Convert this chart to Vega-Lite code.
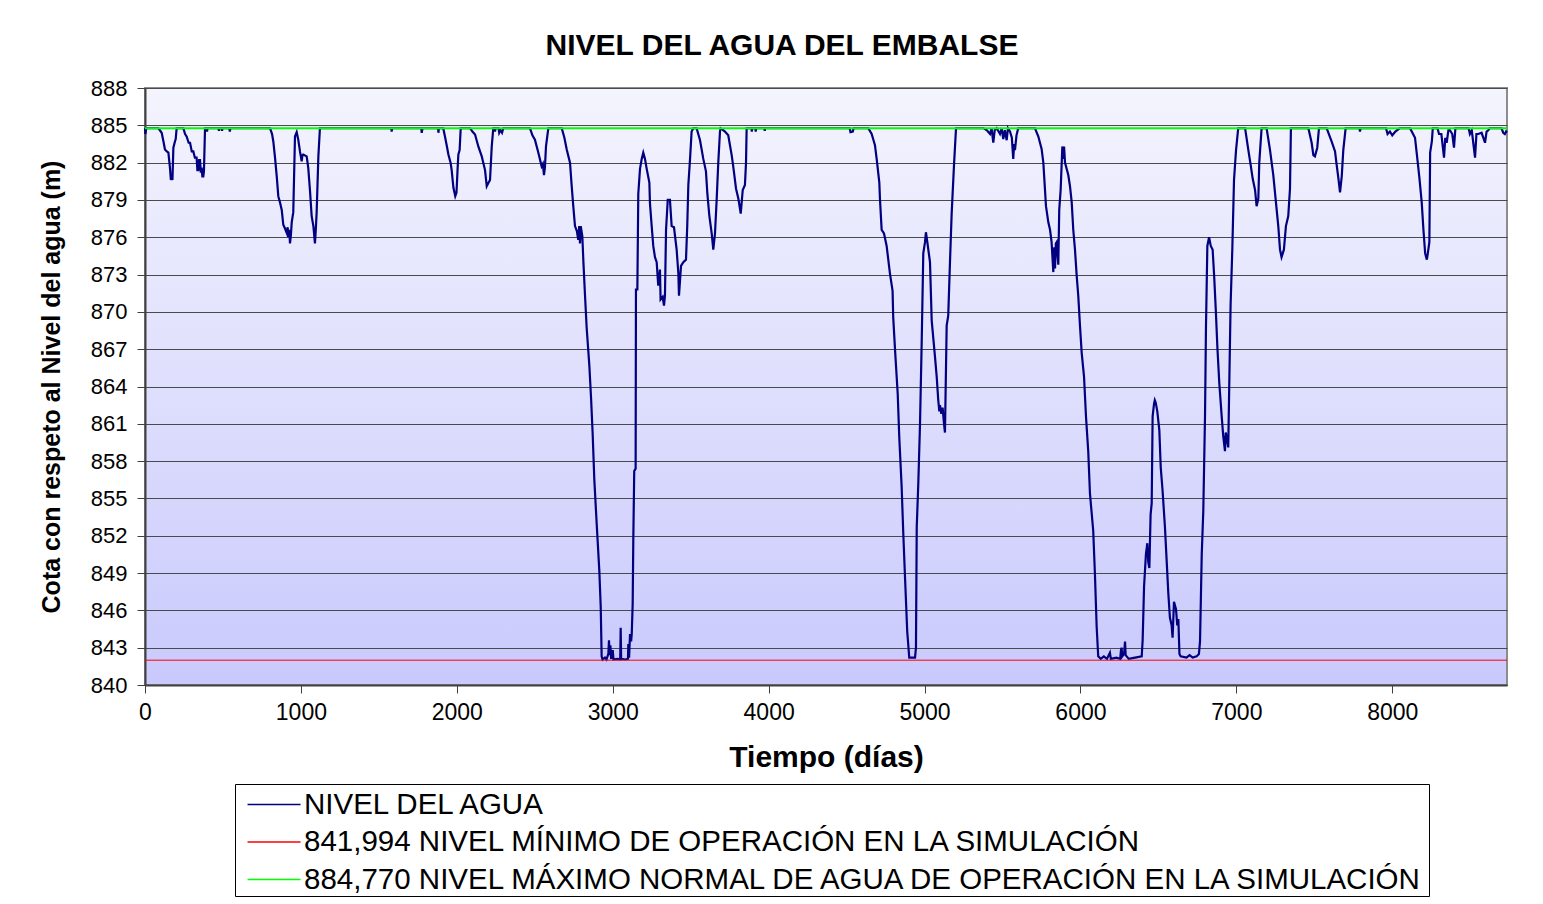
{
  "$schema": "https://vega.github.io/schema/vega-lite/v6.json",
  "width": 1362,
  "height": 597,
  "autosize": {"type": "none"},
  "padding": {"left": 145, "top": 88, "right": 36, "bottom": 219},
  "background": "white",
  "title": {"text": "NIVEL DEL AGUA DEL EMBALSE", "font": "Liberation Sans", "fontSize": 30, "fontWeight": "bold", "color": "black", "anchor": "middle", "frame": "group", "dx": -44, "offset": 16},
  "datasets": {
    "nivel": [
      {"dia":0,"cota":884.77},{"dia":2,"cota":884.3},{"dia":5,"cota":884.5},{"dia":8,"cota":884.77},
      {"dia":85,"cota":884.77},{"dia":107,"cota":884.4},{"dia":120,"cota":883.6},{"dia":128,"cota":883.05},{"dia":140,"cota":882.9},{"dia":150,"cota":882.8},{"dia":160,"cota":881.6},{"dia":166,"cota":880.6},{"dia":170,"cota":881.0},{"dia":176,"cota":880.6},{"dia":182,"cota":883.2},{"dia":192,"cota":883.7},{"dia":197,"cota":883.9},{"dia":203,"cota":884.77},
      {"dia":246,"cota":884.77},{"dia":257,"cota":884.3},{"dia":267,"cota":884.1},{"dia":280,"cota":883.6},{"dia":289,"cota":883.6},{"dia":300,"cota":882.9},{"dia":310,"cota":882.9},{"dia":320,"cota":882.4},{"dia":331,"cota":882.4},{"dia":336,"cota":881.4},{"dia":342,"cota":881.4},{"dia":347,"cota":882.2},{"dia":353,"cota":882.2},{"dia":358,"cota":881.2},{"dia":363,"cota":881.6},{"dia":368,"cota":880.9},{"dia":374,"cota":880.9},{"dia":378,"cota":881.3},{"dia":385,"cota":884.77},
      {"dia":396,"cota":884.77},{"dia":398,"cota":884.5},{"dia":400,"cota":884.77},{"dia":472,"cota":884.77},{"dia":474,"cota":884.55},{"dia":477,"cota":884.77},{"dia":492,"cota":884.77},{"dia":494,"cota":884.55},{"dia":497,"cota":884.77},{"dia":541,"cota":884.77},{"dia":544,"cota":884.5},{"dia":548,"cota":884.77},
      {"dia":802,"cota":884.77},{"dia":815,"cota":884.3},{"dia":823,"cota":883.7},{"dia":834,"cota":882.4},{"dia":845,"cota":880.9},{"dia":855,"cota":879.3},{"dia":866,"cota":878.8},{"dia":877,"cota":878.2},{"dia":887,"cota":877.0},{"dia":898,"cota":876.7},{"dia":909,"cota":876.35},{"dia":915,"cota":876.8},{"dia":920,"cota":876.0},{"dia":925,"cota":876.6},{"dia":930,"cota":875.5},{"dia":936,"cota":876.2},{"dia":941,"cota":877.2},{"dia":951,"cota":878.0},{"dia":962,"cota":884.1},{"dia":973,"cota":884.45},{"dia":983,"cota":883.85},{"dia":994,"cota":882.9},{"dia":1005,"cota":882.1},{"dia":1010,"cota":882.6},{"dia":1015,"cota":882.65},{"dia":1037,"cota":882.5},{"dia":1047,"cota":881.6},{"dia":1058,"cota":879.8},{"dia":1069,"cota":877.7},{"dia":1080,"cota":876.9},{"dia":1085,"cota":876.2},{"dia":1090,"cota":875.5},{"dia":1095,"cota":876.5},{"dia":1101,"cota":878.0},{"dia":1112,"cota":882.5},{"dia":1122,"cota":884.77},
      {"dia":1580,"cota":884.77},{"dia":1582,"cota":884.5},{"dia":1586,"cota":884.77},{"dia":1772,"cota":884.77},{"dia":1775,"cota":884.4},{"dia":1780,"cota":884.77},{"dia":1880,"cota":884.77},{"dia":1882,"cota":884.4},{"dia":1885,"cota":884.77},
      {"dia":1913,"cota":884.77},{"dia":1924,"cota":884.1},{"dia":1935,"cota":883.4},{"dia":1946,"cota":882.65},{"dia":1960,"cota":882.0},{"dia":1967,"cota":881.4},{"dia":1978,"cota":880.0},{"dia":1990,"cota":879.3},{"dia":1998,"cota":879.6},{"dia":2005,"cota":881.5},{"dia":2010,"cota":882.65},{"dia":2018,"cota":883.0},{"dia":2025,"cota":884.77},
      {"dia":2085,"cota":884.77},{"dia":2100,"cota":884.5},{"dia":2117,"cota":884.26},{"dia":2138,"cota":883.3},{"dia":2160,"cota":882.5},{"dia":2181,"cota":881.4},{"dia":2192,"cota":880.1},{"dia":2200,"cota":880.3},{"dia":2213,"cota":880.6},{"dia":2224,"cota":883.3},{"dia":2234,"cota":884.77},
      {"dia":2243,"cota":884.77},{"dia":2245,"cota":884.5},{"dia":2248,"cota":884.77},{"dia":2268,"cota":884.77},{"dia":2272,"cota":884.4},{"dia":2280,"cota":884.6},{"dia":2290,"cota":884.4},{"dia":2298,"cota":884.77},
      {"dia":2469,"cota":884.77},{"dia":2485,"cota":884.2},{"dia":2501,"cota":883.85},{"dia":2523,"cota":882.8},{"dia":2544,"cota":881.7},{"dia":2552,"cota":881.9},{"dia":2559,"cota":881.0},{"dia":2565,"cota":881.6},{"dia":2572,"cota":883.3},{"dia":2587,"cota":884.77},
      {"dia":2673,"cota":884.77},{"dia":2690,"cota":884.0},{"dia":2705,"cota":883.05},{"dia":2726,"cota":882.0},{"dia":2737,"cota":880.1},{"dia":2747,"cota":878.5},{"dia":2758,"cota":876.9},{"dia":2770,"cota":876.5},{"dia":2779,"cota":875.8},{"dia":2785,"cota":876.9},{"dia":2790,"cota":875.5},{"dia":2795,"cota":876.9},{"dia":2805,"cota":876.1},{"dia":2812,"cota":874.0},{"dia":2822,"cota":871.4},{"dia":2833,"cota":868.7},{"dia":2850,"cota":865.7},{"dia":2861,"cota":863.1},{"dia":2871,"cota":860.3},{"dia":2882,"cota":856.5},{"dia":2897,"cota":853.0},{"dia":2914,"cota":849.2},{"dia":2923,"cota":846.3},{"dia":2929,"cota":842.3},{"dia":2935,"cota":842.05},
      {"dia":2950,"cota":842.2},{"dia":2960,"cota":842.05},{"dia":2972,"cota":842.5},{"dia":2976,"cota":843.6},{"dia":2980,"cota":842.4},{"dia":2985,"cota":843.2},{"dia":2990,"cota":842.1},{"dia":3000,"cota":842.8},{"dia":3005,"cota":842.05},{"dia":3030,"cota":842.1},{"dia":3048,"cota":842.05},{"dia":3051,"cota":844.6},{"dia":3054,"cota":842.1},{"dia":3080,"cota":842.05},{"dia":3098,"cota":842.1},{"dia":3100,"cota":843.3},{"dia":3105,"cota":842.2},{"dia":3111,"cota":844.1},{"dia":3118,"cota":843.5},{"dia":3122,"cota":844.1},
      {"dia":3128,"cota":846.5},{"dia":3132,"cota":851.7},{"dia":3138,"cota":857.2},{"dia":3147,"cota":857.4},{"dia":3149,"cota":871.8},{"dia":3158,"cota":871.8},{"dia":3164,"cota":879.5},{"dia":3175,"cota":881.5},{"dia":3186,"cota":882.3},{"dia":3196,"cota":882.8},{"dia":3207,"cota":882.3},{"dia":3218,"cota":881.5},{"dia":3235,"cota":880.4},{"dia":3239,"cota":878.7},{"dia":3250,"cota":876.9},{"dia":3260,"cota":875.3},{"dia":3271,"cota":874.4},{"dia":3282,"cota":874.0},{"dia":3292,"cota":872.1},{"dia":3303,"cota":873.4},{"dia":3307,"cota":871.0},{"dia":3320,"cota":871.2},{"dia":3329,"cota":870.5},{"dia":3335,"cota":871.3},{"dia":3342,"cota":876.6},{"dia":3353,"cota":879.0},{"dia":3367,"cota":879.0},{"dia":3378,"cota":876.9},{"dia":3393,"cota":876.8},{"dia":3410,"cota":875.0},{"dia":3421,"cota":873.1},{"dia":3425,"cota":871.3},{"dia":3438,"cota":873.7},{"dia":3453,"cota":874.0},{"dia":3470,"cota":874.2},{"dia":3478,"cota":876.9},{"dia":3485,"cota":880.2},{"dia":3496,"cota":882.3},{"dia":3506,"cota":884.5},{"dia":3517,"cota":884.77},
      {"dia":3538,"cota":884.77},{"dia":3560,"cota":883.8},{"dia":3581,"cota":882.3},{"dia":3598,"cota":881.3},{"dia":3607,"cota":879.5},{"dia":3620,"cota":877.7},{"dia":3635,"cota":876.3},{"dia":3645,"cota":875.0},{"dia":3656,"cota":876.3},{"dia":3667,"cota":879.1},{"dia":3677,"cota":882.0},{"dia":3688,"cota":884.5},{"dia":3692,"cota":884.77},{"dia":3720,"cota":884.5},{"dia":3741,"cota":884.2},{"dia":3763,"cota":882.6},{"dia":3773,"cota":881.7},{"dia":3791,"cota":879.9},{"dia":3806,"cota":879.1},{"dia":3821,"cota":877.9},{"dia":3834,"cota":879.8},{"dia":3848,"cota":880.2},{"dia":3855,"cota":882.0},{"dia":3859,"cota":884.77},
      {"dia":3890,"cota":884.77},{"dia":3892,"cota":884.5},{"dia":3895,"cota":884.77},{"dia":3915,"cota":884.77},{"dia":3917,"cota":884.5},{"dia":3920,"cota":884.77},{"dia":3973,"cota":884.77},{"dia":3975,"cota":884.55},{"dia":3978,"cota":884.77},{"dia":4520,"cota":884.77},{"dia":4525,"cota":884.45},{"dia":4540,"cota":884.5},{"dia":4545,"cota":884.77},
      {"dia":4639,"cota":884.77},{"dia":4661,"cota":884.3},{"dia":4682,"cota":883.4},{"dia":4693,"cota":882.3},{"dia":4710,"cota":880.4},{"dia":4714,"cota":879.1},{"dia":4725,"cota":876.6},{"dia":4740,"cota":876.3},{"dia":4757,"cota":875.3},{"dia":4778,"cota":873.1},{"dia":4795,"cota":871.7},{"dia":4799,"cota":869.6},{"dia":4812,"cota":866.7},{"dia":4828,"cota":863.4},{"dia":4838,"cota":859.9},{"dia":4853,"cota":856.0},{"dia":4864,"cota":852.1},{"dia":4875,"cota":848.6},{"dia":4889,"cota":844.3},{"dia":4902,"cota":842.2},{"dia":4939,"cota":842.2},{"dia":4945,"cota":843.0},{"dia":4950,"cota":852.7},{"dia":4960,"cota":856.2},{"dia":4971,"cota":861.0},{"dia":4982,"cota":867.7},{"dia":4992,"cota":874.7},{"dia":5003,"cota":875.6},{"dia":5009,"cota":876.4},{"dia":5018,"cota":875.6},{"dia":5035,"cota":874.0},{"dia":5046,"cota":869.3},{"dia":5067,"cota":866.4},{"dia":5078,"cota":864.8},{"dia":5088,"cota":862.9},{"dia":5095,"cota":862.0},{"dia":5099,"cota":862.5},{"dia":5108,"cota":861.8},{"dia":5116,"cota":862.3},{"dia":5125,"cota":861.0},{"dia":5131,"cota":860.3},{"dia":5142,"cota":868.9},{"dia":5152,"cota":869.7},{"dia":5163,"cota":873.9},{"dia":5174,"cota":877.9},{"dia":5189,"cota":881.8},{"dia":5202,"cota":884.77},
      {"dia":5377,"cota":884.77},{"dia":5400,"cota":884.6},{"dia":5420,"cota":884.3},{"dia":5430,"cota":884.77},{"dia":5441,"cota":883.6},{"dia":5450,"cota":884.6},{"dia":5463,"cota":884.77},{"dia":5475,"cota":884.5},{"dia":5484,"cota":884.3},{"dia":5495,"cota":884.77},{"dia":5505,"cota":883.9},{"dia":5515,"cota":884.6},{"dia":5527,"cota":883.8},{"dia":5535,"cota":884.77},{"dia":5548,"cota":884.5},{"dia":5560,"cota":884.0},{"dia":5569,"cota":882.3},{"dia":5575,"cota":883.5},{"dia":5580,"cota":883.0},{"dia":5590,"cota":884.2},{"dia":5601,"cota":884.77},
      {"dia":5708,"cota":884.77},{"dia":5730,"cota":884.1},{"dia":5751,"cota":883.1},{"dia":5762,"cota":882.0},{"dia":5779,"cota":878.5},{"dia":5794,"cota":877.2},{"dia":5805,"cota":876.6},{"dia":5815,"cota":875.6},{"dia":5826,"cota":873.2},{"dia":5832,"cota":875.2},{"dia":5837,"cota":873.5},{"dia":5842,"cota":875.5},{"dia":5847,"cota":875.6},{"dia":5858,"cota":873.8},{"dia":5864,"cota":878.2},{"dia":5873,"cota":879.8},{"dia":5884,"cota":883.3},{"dia":5890,"cota":882.3},{"dia":5895,"cota":883.3},{"dia":5901,"cota":882.0},{"dia":5922,"cota":881.0},{"dia":5933,"cota":880.1},{"dia":5944,"cota":878.8},{"dia":5954,"cota":876.6},{"dia":5965,"cota":875.0},{"dia":5976,"cota":872.9},{"dia":5986,"cota":871.3},{"dia":5997,"cota":868.9},{"dia":6008,"cota":866.7},{"dia":6023,"cota":864.8},{"dia":6036,"cota":861.5},{"dia":6050,"cota":858.8},{"dia":6061,"cota":855.4},{"dia":6082,"cota":852.4},{"dia":6093,"cota":848.9},{"dia":6104,"cota":844.7},{"dia":6114,"cota":842.3},
      {"dia":6130,"cota":842.1},{"dia":6150,"cota":842.3},{"dia":6170,"cota":842.1},{"dia":6189,"cota":842.6},{"dia":6195,"cota":842.1},{"dia":6230,"cota":842.2},{"dia":6255,"cota":842.1},{"dia":6260,"cota":842.8},{"dia":6264,"cota":843.0},{"dia":6268,"cota":842.3},{"dia":6280,"cota":842.5},{"dia":6286,"cota":843.5},{"dia":6290,"cota":842.4},{"dia":6310,"cota":842.1},{"dia":6350,"cota":842.2},{"dia":6393,"cota":842.3},
      {"dia":6399,"cota":843.6},{"dia":6408,"cota":847.9},{"dia":6420,"cota":850.5},{"dia":6429,"cota":851.4},{"dia":6435,"cota":849.9},{"dia":6442,"cota":849.4},{"dia":6450,"cota":853.7},{"dia":6457,"cota":854.6},{"dia":6463,"cota":861.6},{"dia":6472,"cota":862.6},{"dia":6477,"cota":862.9},{"dia":6483,"cota":862.7},{"dia":6493,"cota":862.0},{"dia":6506,"cota":860.5},{"dia":6515,"cota":857.5},{"dia":6527,"cota":855.6},{"dia":6542,"cota":852.7},{"dia":6553,"cota":850.0},{"dia":6564,"cota":847.3},{"dia":6574,"cota":845.4},{"dia":6585,"cota":844.8},{"dia":6591,"cota":843.8},{"dia":6600,"cota":846.7},{"dia":6613,"cota":846.1},{"dia":6621,"cota":844.8},{"dia":6628,"cota":845.3},{"dia":6635,"cota":842.5},{"dia":6643,"cota":842.3},{"dia":6680,"cota":842.2},{"dia":6700,"cota":842.4},{"dia":6720,"cota":842.2},{"dia":6745,"cota":842.3},{"dia":6760,"cota":842.5},{"dia":6767,"cota":843.5},
      {"dia":6778,"cota":850.5},{"dia":6788,"cota":854.0},{"dia":6799,"cota":861.6},{"dia":6805,"cota":868.6},{"dia":6814,"cota":875.3},{"dia":6825,"cota":876.0},{"dia":6836,"cota":875.3},{"dia":6848,"cota":875.0},{"dia":6858,"cota":872.8},{"dia":6868,"cota":870.2},{"dia":6879,"cota":867.0},{"dia":6891,"cota":864.2},{"dia":6906,"cota":861.6},{"dia":6916,"cota":860.0},{"dia":6927,"cota":858.8},{"dia":6932,"cota":860.3},{"dia":6938,"cota":859.9},{"dia":6948,"cota":859.1},{"dia":6955,"cota":864.5},{"dia":6963,"cota":870.5},{"dia":6974,"cota":875.0},{"dia":6985,"cota":880.6},{"dia":6998,"cota":883.0},{"dia":7012,"cota":884.77},
      {"dia":7056,"cota":884.77},{"dia":7077,"cota":883.0},{"dia":7092,"cota":881.8},{"dia":7105,"cota":880.7},{"dia":7120,"cota":879.8},{"dia":7130,"cota":878.5},{"dia":7141,"cota":879.1},{"dia":7147,"cota":882.0},{"dia":7162,"cota":884.77},
      {"dia":7194,"cota":884.77},{"dia":7216,"cota":883.0},{"dia":7237,"cota":881.0},{"dia":7254,"cota":878.8},{"dia":7269,"cota":876.9},{"dia":7280,"cota":875.0},{"dia":7290,"cota":874.4},{"dia":7305,"cota":875.0},{"dia":7318,"cota":876.9},{"dia":7333,"cota":877.7},{"dia":7344,"cota":879.9},{"dia":7350,"cota":884.77},
      {"dia":7462,"cota":884.77},{"dia":7483,"cota":883.6},{"dia":7494,"cota":882.6},{"dia":7504,"cota":882.5},{"dia":7519,"cota":883.2},{"dia":7530,"cota":884.77},
      {"dia":7579,"cota":884.77},{"dia":7611,"cota":883.7},{"dia":7633,"cota":882.9},{"dia":7643,"cota":881.85},{"dia":7654,"cota":880.8},{"dia":7665,"cota":879.6},{"dia":7676,"cota":880.9},{"dia":7686,"cota":883.0},{"dia":7701,"cota":884.77},
      {"dia":7790,"cota":884.77},{"dia":7793,"cota":884.5},{"dia":7797,"cota":884.77},{"dia":7960,"cota":884.77},{"dia":7970,"cota":884.3},{"dia":7985,"cota":884.5},{"dia":8000,"cota":884.2},{"dia":8020,"cota":884.5},{"dia":8049,"cota":884.77},
      {"dia":8114,"cota":884.77},{"dia":8146,"cota":884.0},{"dia":8161,"cota":882.3},{"dia":8174,"cota":880.8},{"dia":8189,"cota":878.8},{"dia":8200,"cota":876.6},{"dia":8211,"cota":874.7},{"dia":8222,"cota":874.2},{"dia":8228,"cota":874.7},{"dia":8238,"cota":875.6},{"dia":8243,"cota":882.8},{"dia":8254,"cota":883.7},{"dia":8260,"cota":884.77},
      {"dia":8290,"cota":884.77},{"dia":8300,"cota":884.3},{"dia":8315,"cota":884.3},{"dia":8332,"cota":882.4},{"dia":8340,"cota":884.0},{"dia":8349,"cota":883.6},{"dia":8360,"cota":884.6},{"dia":8370,"cota":884.6},{"dia":8385,"cota":884.3},{"dia":8396,"cota":883.2},{"dia":8405,"cota":884.77},
      {"dia":8490,"cota":884.77},{"dia":8498,"cota":884.3},{"dia":8510,"cota":884.6},{"dia":8531,"cota":882.4},{"dia":8540,"cota":884.3},{"dia":8552,"cota":884.3},{"dia":8573,"cota":884.4},{"dia":8595,"cota":883.6},{"dia":8605,"cota":884.5},{"dia":8616,"cota":884.6},{"dia":8625,"cota":884.77},
      {"dia":8700,"cota":884.77},{"dia":8712,"cota":884.4},{"dia":8722,"cota":884.3},{"dia":8730,"cota":884.5},{"dia":8736,"cota":884.4}
    ],
    "ref": [
      {"dia":0,"cota":841.994,"serie":"841,994 NIVEL MÍNIMO DE OPERACIÓN EN LA SIMULACIÓN"},
      {"dia":8736,"cota":841.994,"serie":"841,994 NIVEL MÍNIMO DE OPERACIÓN EN LA SIMULACIÓN"},
      {"dia":0,"cota":884.77,"serie":"884,770 NIVEL MÁXIMO NORMAL DE AGUA DE OPERACIÓN EN LA SIMULACIÓN"},
      {"dia":8736,"cota":884.77,"serie":"884,770 NIVEL MÁXIMO NORMAL DE AGUA DE OPERACIÓN EN LA SIMULACIÓN"}
    ]
  },
  "layer": [
    {
      "data": {"name": "nivel"},
      "mark": {"type": "line", "strokeWidth": 2.2},
      "encoding": {
        "x": {"field": "dia", "type": "quantitative", "scale": {"domain": [0, 8736], "nice": false, "zero": false},
          "axis": {"values": [0,1000,2000,3000,4000,5000,6000,7000,8000], "tickCount": 20, "format": "d", "title": "Tiempo (días)", "grid": false, "labelFlush": false, "labelOverlap": false, "labelFontSize": 23, "titleFontSize": 30, "titleFontWeight": "bold", "tickSize": 8, "labelPadding": 8, "titlePadding": 18}},
        "y": {"field": "cota", "type": "quantitative", "scale": {"domain": [840, 888], "nice": false, "zero": false},
          "axis": {"values": [840,843,846,849,852,855,858,861,864,867,870,873,876,879,882,885,888], "tickCount": 40, "format": "d", "title": "Cota con respeto al Nivel del agua (m)", "grid": true, "gridColor": "#4a4a4a", "gridWidth": 1, "labelOverlap": false, "labelFontSize": 22, "titleFontSize": 25, "titleFontWeight": "bold", "tickSize": 8, "labelPadding": 10, "titlePadding": 26}},
        "color": {"datum": "NIVEL DEL AGUA", "type": "nominal", "title": null,
          "scale": {"domain": ["NIVEL DEL AGUA", "841,994 NIVEL MÍNIMO DE OPERACIÓN EN LA SIMULACIÓN", "884,770 NIVEL MÁXIMO NORMAL DE AGUA DE OPERACIÓN EN LA SIMULACIÓN"], "range": ["#000080", "#FF0000", "#00FF00"]},
          "legend": {"orient": "none", "legendX": 90, "legendY": 696, "direction": "vertical", "title": null, "labelFont": "Liberation Sans", "labelFontSize": 29.5, "labelColor": "black", "symbolType": "M-0.45,0H2.55", "symbolSize": 1248, "symbolStrokeWidth": 1.5, "labelOffset": 30, "rowPadding": 4.5, "padding": 2, "strokeColor": "black", "fillColor": "white", "labelLimit": 0}}
      }
    },
    {
      "data": {"name": "ref"},
      "transform": [{"filter": {"field": "cota", "lt": 850}}],
      "mark": {"type": "line", "strokeWidth": 1},
      "encoding": {
        "x": {"field": "dia", "type": "quantitative"},
        "y": {"field": "cota", "type": "quantitative"},
        "color": {"field": "serie", "type": "nominal", "title": null}
      }
    },
    {
      "data": {"name": "ref"},
      "transform": [{"filter": {"field": "cota", "gt": 850}}],
      "mark": {"type": "line", "strokeWidth": 2},
      "encoding": {
        "x": {"field": "dia", "type": "quantitative"},
        "y": {"field": "cota", "type": "quantitative"},
        "color": {"field": "serie", "type": "nominal", "title": null}
      }
    }
  ],
  "config": {
    "font": "Liberation Sans",
    "view": {"stroke": "#8c8c8c", "strokeWidth": 2, "fill": {"gradient": "linear", "x1": 0, "y1": 0, "x2": 0, "y2": 1, "stops": [{"offset": 0, "color": "#F4F4FE"}, {"offset": 1, "color": "#C9C9FD"}]}},
    "axis": {"labelFont": "Liberation Sans", "titleFont": "Liberation Sans", "labelColor": "black", "titleColor": "black", "domainColor": "#404040", "domainWidth": 2, "tickColor": "#404040", "tickWidth": 1}
  }
}
